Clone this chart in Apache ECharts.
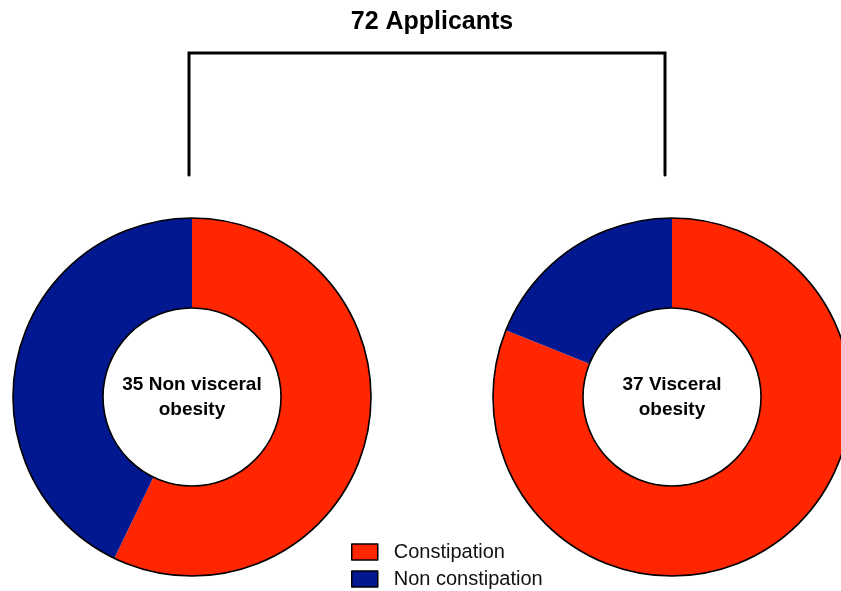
<!DOCTYPE html>
<html lang="en" style="height: 100%">
<head>
  <meta charset="utf-8">
</head>
<body style="height: 100%; margin: 0; background-color:#ffffff;">
  <div id="container" style="height: 100%"></div>

<script src="https://fastly.jsdelivr.net/npm/echarts@6/dist/echarts.min.js"></script>

<script>
  var dom = document.getElementById('container');
  var myChart = echarts.init(dom);

  var categories = ['Constipation', 'Non constipation'];
  var groupNames = ['35 Non visceral\nobesity', '37 Visceral\nobesity'];
  var nonVisceral = [20, 15];
  var visceral = [30, 7];
  var colors = ['#ff2600', '#021891'];
  var font = 'Liberation Sans, Arial, Helvetica, sans-serif';

  var radius = [89, 179];
  var centers = [[192, 397], [672, 397]];

  function ring(values, center) {
    return {
      type: 'pie',
      center: center,
      radius: radius,
      startAngle: 90,
      clockwise: true,
      label: { show: false },
      labelLine: { show: false },
      emphasis: { disabled: true },
      itemStyle: { borderWidth: 0 },
      data: values.map(function (v, i) {
        return { name: categories[i], value: v, itemStyle: { color: colors[i] } };
      })
    };
  }

  // black outline round each donut, centre text as its label
  function outline(name, center) {
    return {
      type: 'pie',
      silent: true,
      center: center,
      radius: radius,
      label: {
        show: true,
        position: 'center',
        fontFamily: font,
        fontSize: 19,
        fontWeight: 'bold',
        color: '#000',
        lineHeight: 25,
        padding: [0, 0, 4, 0]
      },
      labelLine: { show: false },
      itemStyle: { color: 'rgba(0,0,0,0)', borderColor: '#000', borderWidth: 1.6 },
      data: [{ name: name, value: 1 }]
    };
  }

  // one legend row per category, stacked
  function legendRow(name, top) {
    return {
      data: [name],
      left: 351,
      top: top,
      padding: 0,
      icon: 'rect',
      itemWidth: 26,
      itemHeight: 16,
      itemStyle: { borderColor: '#000', borderWidth: 1.5 },
      textStyle: { fontFamily: font, fontSize: 20, color: '#111', padding: [0, 0, 0, 11] }
    };
  }

  var option = {
    animation: false,
    title: {
      text: '72 Applicants',
      left: 427,
      top: 5,
      textAlign: 'center',
      textStyle: { fontFamily: font, fontSize: 25, fontWeight: 'bold', color: '#000' }
    },
    legend: [legendRow(categories[0], 542), legendRow(categories[1], 569)],
    graphic: [{
      type: 'polyline',
      shape: { points: [[189, 175], [189, 53], [665, 53], [665, 175]] },
      style: { stroke: '#000', lineWidth: 3, fill: null, lineCap: 'round' }
    }],
    series: [
      ring(nonVisceral, centers[0]),
      ring(visceral, centers[1]),
      outline(groupNames[0], centers[0]),
      outline(groupNames[1], centers[1])
    ]
  };

  myChart.setOption(option);
  window.addEventListener('resize', myChart.resize);
</script>

</body>
</html>
